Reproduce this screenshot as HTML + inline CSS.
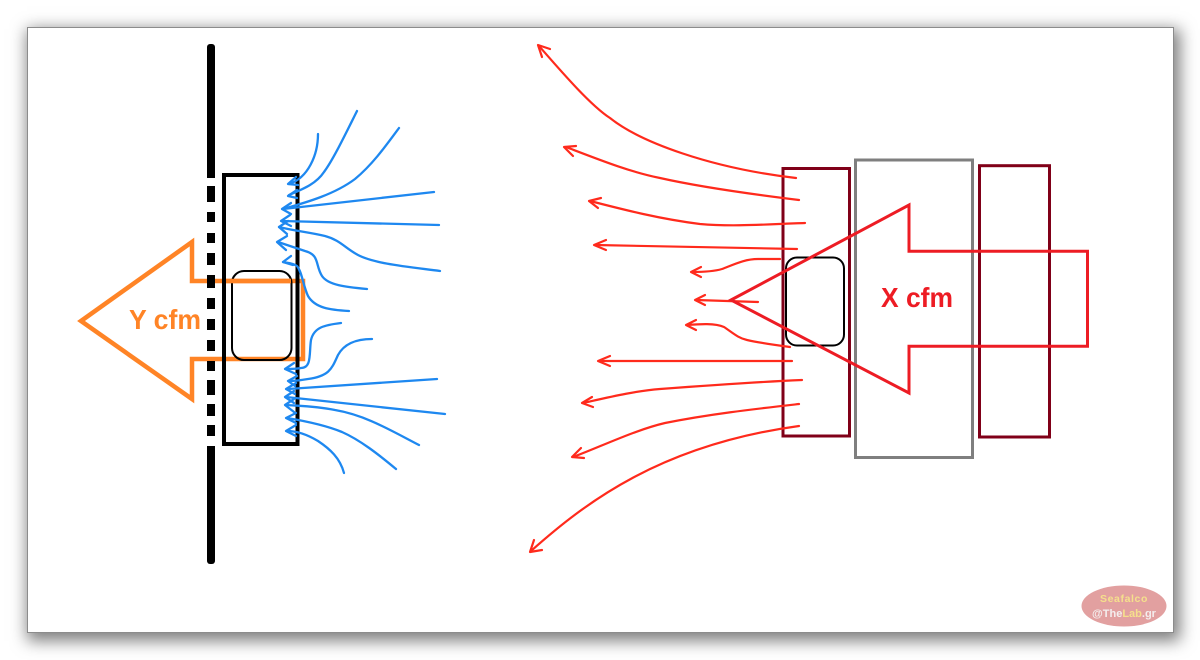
<!DOCTYPE html>
<html>
<head>
<meta charset="utf-8">
<style>
html,body{margin:0;padding:0;background:#fff;width:1200px;height:660px;overflow:hidden}
#f{position:absolute;left:27px;top:27px;width:1145px;height:604px;background:#fff;border:1px solid #8c8c8c;box-shadow:3px 5px 15px 3px rgba(0,0,0,.5)}
svg{position:absolute;left:0;top:0}
.b path,.b polyline{fill:none;stroke:#1e88f0;stroke-width:2.300;stroke-linecap:round;stroke-linejoin:round}
.r path,.r polyline{fill:none;stroke:#ff2a1c;stroke-width:2.200;stroke-linecap:round;stroke-linejoin:round}
</style>
</head>
<body>
<div id="f"></div>
<svg width="1200" height="660" viewBox="0 0 1200 660" xmlns="http://www.w3.org/2000/svg">
<!-- orange arrow -->
<polygon points="81,321 192,242 192,281 303,281 303,359 192,359 192,399" fill="none" stroke="#ff8426" stroke-width="4.500" stroke-linejoin="miter" stroke-miterlimit="3"/>
<text x="129" y="329" textLength="72" lengthAdjust="spacingAndGlyphs" font-family="Liberation Sans, sans-serif" font-weight="bold" font-size="27.500" fill="#ff8426">Y cfm</text>
<!-- wall -->
<g fill="#000">
<rect x="207" y="44" width="8" height="20" rx="3"/>
<rect x="207" y="50" width="8" height="128"/>
<rect x="207" y="186" width="8" height="16"/>
<rect x="207" y="212" width="8" height="10"/>
<rect x="207" y="233" width="8" height="10"/>
<rect x="207" y="253" width="8" height="12"/>
<rect x="207" y="275" width="8" height="13"/>
<rect x="207" y="298" width="8" height="11"/>
<rect x="207" y="319" width="8" height="11"/>
<rect x="207" y="340" width="8" height="11"/>
<rect x="207" y="361" width="8" height="10"/>
<rect x="207" y="380" width="8" height="15"/>
<rect x="207" y="404" width="8" height="12"/>
<rect x="207" y="425" width="8" height="11"/>
<rect x="207" y="446" width="8" height="112"/>
<rect x="207" y="544" width="8" height="20" rx="3"/>
</g>
<rect x="224" y="175" width="73.500" height="269" fill="none" stroke="#000" stroke-width="4"/>
<rect x="232" y="271" width="59.500" height="89" rx="12" fill="none" stroke="#000" stroke-width="2"/>
<path d="M226,281H291" stroke="#ff8426" stroke-width="4.500" fill="none"/>
<!-- blue lines -->
<g class="b">
<path d="M318,134C318,155 308,178 289,184"/><polyline points="296,177 288,184 298,185"/>
<path d="M357,111C345,135 333,160 324,172C316,184 303,189 289,195"/><polyline points="297,190 288,196 297,198"/>
<path d="M399,128C385,147 372,165 355,179C335,194 308,202 283,209"/>
<path d="M434,192L283,209"/><polyline points="291,203 282,209 291,214"/>
<path d="M439,225L282,221"/><polyline points="290,215 281,221 291,226"/>
<path d="M440,271C410,267 375,264 358,255C345,248 340,240 325,236C308,232 295,231 279,227"/><polyline points="288,221 279,227 287,234"/>
<path d="M367,289C345,287 328,285 322,276C315,265 320,255 305,251L278,242"/><polyline points="287,236 277,242 286,250"/>
<path d="M349,311C330,310 315,308 308,296C303,285 302,272 297,266C293,263 288,263 283,262"/><polyline points="291,256 283,262 293,265"/>
<path d="M341,323C325,325 314,327 311,340C309,353 312,368 301,368C296,369 291,369 286,369"/><polyline points="294,363 285,369 296,374"/>
<path d="M372,339C355,339 344,344 338,355C332,368 330,376 308,379C302,380 296,381 289,381"/><polyline points="297,376 288,381 295,386"/>
<path d="M437,379L288,389"/><polyline points="296,383 286,389 295,394"/>
<path d="M445,414L286,397"/><polyline points="294,391 285,397 294,403"/>
<path d="M419,445C390,430 365,415 335,410C315,406 300,406 286,405"/><polyline points="294,399 285,405 294,412"/>
<path d="M396,469C378,454 360,440 342,432C325,425 305,421 287,418"/><polyline points="296,413 286,418 296,423"/>
<path d="M344,473C340,458 330,449 318,441C308,435 298,431 287,431"/><polyline points="296,425 286,431 296,436"/>
</g>
<!-- right rectangles -->
<rect x="783" y="168.500" width="66.500" height="267.500" fill="none" stroke="#800018" stroke-width="3"/>
<rect x="855.500" y="160" width="117" height="297.500" fill="none" stroke="#7f7f7f" stroke-width="3"/>
<rect x="979.500" y="165.700" width="70" height="271.300" fill="none" stroke="#800018" stroke-width="3"/>
<rect x="786" y="257.500" width="58" height="88" rx="11" fill="none" stroke="#000" stroke-width="2"/>
<!-- red flow lines -->
<g class="r">
<path d="M539,46C560,70 590,105 610,118C640,142 710,168 796,178"/><polyline points="550,49 538,45 542,57"/>
<path d="M566,147C600,160 630,172 660,178C700,187 750,194 799,200"/><polyline points="576,146 564,147 573,156"/>
<path d="M590,201C625,210 660,219 700,224C735,227 770,224 805,223"/><polyline points="601,198 589,201 598,208"/>
<path d="M595,245L797,249"/><polyline points="606,240 594,245 606,250"/>
<path d="M692,272C700,272 712,272 722,269C735,264 745,259 758,259C765,259 772,259 780,259"/><polyline points="701,267 691,272 701,277"/>
<path d="M696,300L758,302"/><polyline points="705,295 695,300 705,305"/>
<path d="M687,325C700,324 715,323 724,327C733,333 738,338 747,340C760,343 775,345 790,347"/><polyline points="696,320 686,325 696,330"/>
<path d="M599,361H792"/><polyline points="610,356 598,361 610,366"/>
<path d="M583,403C610,397 635,391 660,389C700,386 755,382 802,380"/><polyline points="592,397 582,403 593,407"/>
<path d="M573,457C600,447 635,430 665,423C710,414 755,409 799,404"/><polyline points="581,448 572,457 584,458"/>
<path d="M531,551C585,503 660,445 799,426"/><polyline points="534,540 530,552 542,550"/>
</g>
<!-- red arrow -->
<polygon points="731,300 909,205 909,251.300 1087.500,251.300 1087.500,346.300 909,346.300 909,393" fill="none" stroke="#ed1c24" stroke-width="3" stroke-linejoin="miter" stroke-miterlimit="4"/>
<text x="881" y="307" textLength="72" lengthAdjust="spacingAndGlyphs" font-family="Liberation Sans, sans-serif" font-weight="bold" font-size="27.500" fill="#ed1c24">X cfm</text>
<!-- watermark -->
<ellipse cx="1124" cy="606" rx="42.500" ry="20.500" fill="#e2a0a0"/>
<text x="1124" y="602" text-anchor="middle" font-family="Liberation Sans, sans-serif" font-weight="bold" font-size="10.500" letter-spacing=".6" fill="#f5e08c">Seafalco</text>
<text x="1124" y="617" text-anchor="middle" font-family="Liberation Sans, sans-serif" font-weight="bold" font-size="11" fill="#f4eeee">@The<tspan fill="#f5e08c">Lab</tspan>.gr</text>
</svg>
</body>
</html>
